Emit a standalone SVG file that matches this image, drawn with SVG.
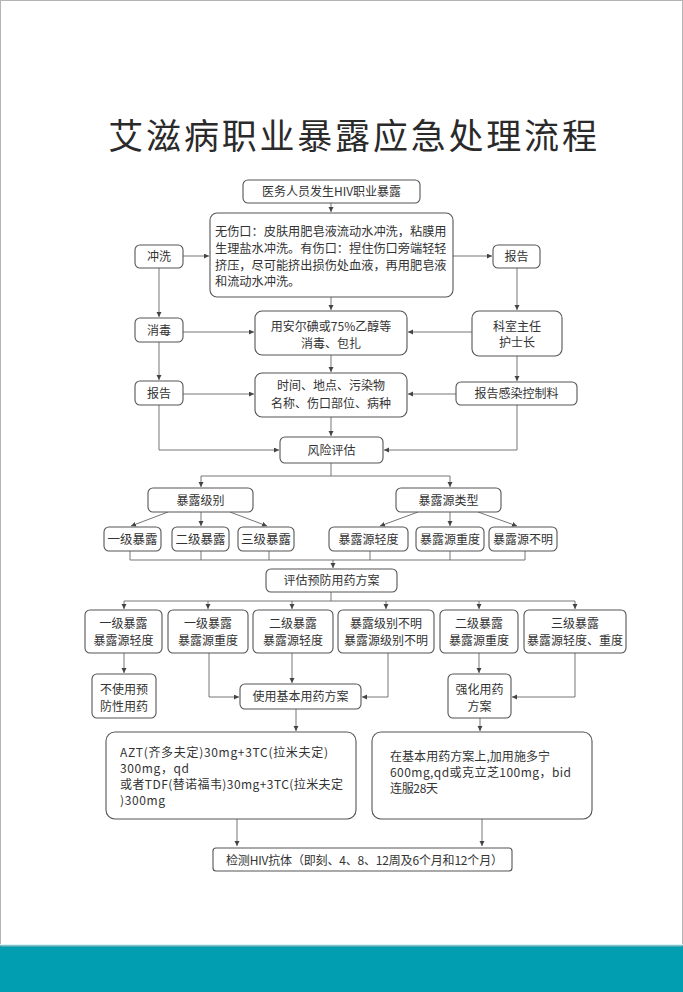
<svg xmlns="http://www.w3.org/2000/svg" width="683" height="992" viewBox="0 0 683 992">
<defs>
<style>
.box{fill:#fff;stroke:#555;stroke-width:1.1}
.t{font-family:"Noto Sans CJK SC","Noto Sans",sans-serif;font-size:12px;fill:#333}
.c{text-anchor:middle}
.ln{fill:none;stroke:#666;stroke-width:0.9}
.title{font-family:"Noto Sans CJK SC","Noto Sans",sans-serif;font-size:35px;fill:#2a2a2a;letter-spacing:2.8px;text-anchor:middle}
</style>
<marker id="ar" markerUnits="userSpaceOnUse" markerWidth="6" markerHeight="6" refX="5" refY="2.5" orient="auto">
<path d="M0,0 L5,2.5 L0,5 z" fill="#444"/>
</marker>
</defs>
<rect x="0" y="0" width="683" height="992" fill="#fff"/>
<rect x="0.5" y="0.5" width="682" height="991" fill="none" stroke="#b4b4b4" stroke-width="1"/>
<rect x="0" y="944" width="683" height="1.5" fill="#d6f5f9"/>
<rect x="0" y="945.5" width="683" height="1.2" fill="#2a8a92"/>
<rect x="0" y="946.7" width="683" height="45.3" fill="#019db1"/>

<text class="title" x="354" y="149">艾滋病职业暴露应急处理流程</text>

<g id="connectors" class="ln">
<path d="M331,203 V212" marker-end="url(#ar)"/>
<path d="M183,256 H209" marker-end="url(#ar)"/>
<path d="M453,256 H492" marker-end="url(#ar)"/>
<path d="M159,268 V317" marker-end="url(#ar)"/>
<path d="M517,268 V310" marker-end="url(#ar)"/>
<path d="M331,297 V310" marker-end="url(#ar)"/>
<path d="M183,332 H254" marker-end="url(#ar)"/>
<path d="M472,332 H408" marker-end="url(#ar)"/>
<path d="M159,342 V380" marker-end="url(#ar)"/>
<path d="M517,356 V381" marker-end="url(#ar)"/>
<path d="M331,355 V372" marker-end="url(#ar)"/>
<path d="M183,394 H254" marker-end="url(#ar)"/>
<path d="M456,394 H408" marker-end="url(#ar)"/>
<path d="M331,417 V436" marker-end="url(#ar)"/>
<path d="M159,405 V450 H279" marker-end="url(#ar)"/>
<path d="M517,405 V450 H384" marker-end="url(#ar)"/>
<path d="M331,463 V476"/>
<path d="M201,476 H450"/>
<path d="M201,476 V487" marker-end="url(#ar)"/>
<path d="M450,476 V487" marker-end="url(#ar)"/>
<path d="M168,512 L131,526" marker-end="url(#ar)"/>
<path d="M201,512 V526" marker-end="url(#ar)"/>
<path d="M230,512 L267,526" marker-end="url(#ar)"/>
<path d="M418,512 L380,526" marker-end="url(#ar)"/>
<path d="M450,512 V526" marker-end="url(#ar)"/>
<path d="M478,512 L517,526" marker-end="url(#ar)"/>
<path d="M130,551 V560 M201,551 V560 M269,551 V560 M370,551 V560 M450,551 V560 M525,551 V560 M130,560 H525"/>
<path d="M333,560 V568" marker-end="url(#ar)"/>
<path d="M331,592 V601 M124,601 H575"/>
<path d="M124,601 V609" marker-end="url(#ar)"/>
<path d="M208,601 V609" marker-end="url(#ar)"/>
<path d="M292,601 V609" marker-end="url(#ar)"/>
<path d="M386,601 V609" marker-end="url(#ar)"/>
<path d="M479,601 V609" marker-end="url(#ar)"/>
<path d="M575,601 V609" marker-end="url(#ar)"/>
<path d="M124,653 V673" marker-end="url(#ar)"/>
<path d="M209,653 V697 H239" marker-end="url(#ar)"/>
<path d="M292,653 V683" marker-end="url(#ar)"/>
<path d="M388,653 V697 H362" marker-end="url(#ar)"/>
<path d="M479,653 V673" marker-end="url(#ar)"/>
<path d="M575,653 V697 H512" marker-end="url(#ar)"/>
<path d="M296,709 V731" marker-end="url(#ar)"/>
<path d="M480,718 V731" marker-end="url(#ar)"/>
<path d="M237,819 V846" marker-end="url(#ar)"/>
<path d="M482,819 V846" marker-end="url(#ar)"/>
</g>

<g id="n-start"><rect class="box" x="243" y="180" width="177" height="23" rx="5"/><text class="t c" x="331.5" y="196">医务人员发生HIV职业暴露</text></g>
<g id="n-wash-detail"><rect class="box" x="210" y="213" width="243" height="84" rx="7"/>
<text class="t" style="font-size:12.2px" x="215" y="235.5">无伤口：皮肤用肥皂液流动水冲洗，粘膜用</text>
<text class="t" style="font-size:12.2px" x="215" y="252.5">生理盐水冲洗。有伤口：捏住伤口旁端轻轻</text>
<text class="t" style="font-size:12.2px" x="215" y="269.5">挤压，尽可能挤出损伤处血液，再用肥皂液</text>
<text class="t" style="font-size:12.2px" x="215" y="286">和流动水冲洗。</text></g>
<g id="n-wash"><rect class="box" x="135" y="245" width="48" height="23" rx="5"/><text class="t c" x="159" y="261">冲洗</text></g>
<g id="n-report1"><rect class="box" x="493" y="245" width="47" height="23" rx="5"/><text class="t c" x="516.5" y="261">报告</text></g>
<g id="n-disinfect"><rect class="box" x="135" y="318" width="48" height="24" rx="5"/><text class="t c" x="159" y="334.5">消毒</text></g>
<g id="n-disinfect-detail"><rect class="box" x="255" y="311" width="152" height="44" rx="7"/>
<text class="t c" x="331" y="330.5">用安尔碘或75%乙醇等</text>
<text class="t c" x="331" y="347.5">消毒、包扎</text></g>
<g id="n-head"><rect class="box" x="472" y="311" width="90" height="45" rx="7"/>
<text class="t c" x="517" y="330.5">科室主任</text>
<text class="t c" x="517" y="347">护士长</text></g>
<g id="n-report2"><rect class="box" x="135" y="381" width="48" height="24" rx="5"/><text class="t c" x="159" y="397.5">报告</text></g>
<g id="n-record"><rect class="box" x="255" y="373" width="152" height="44" rx="7"/>
<text class="t c" x="331" y="389.5">时间、地点、污染物</text>
<text class="t c" x="331" y="407.5">名称、伤口部位、病种</text></g>
<g id="n-infection"><rect class="box" x="456" y="382" width="121" height="23" rx="5"/><text class="t c" x="516.5" y="398">报告感染控制料</text></g>
<g id="n-risk"><rect class="box" x="280" y="437" width="103" height="26" rx="5"/><text class="t c" x="331.5" y="454.5">风险评估</text></g>
<g id="n-level"><rect class="box" x="148" y="488" width="105" height="24" rx="5"/><text class="t c" x="200.5" y="504.5">暴露级别</text></g>
<g id="n-source"><rect class="box" x="396" y="488" width="105" height="24" rx="5"/><text class="t c" x="448.5" y="504.5">暴露源类型</text></g>
<g id="n-l1"><rect class="box" x="104" y="527" width="57" height="24" rx="5"/><text class="t c" style="font-size:12.5px" x="132.5" y="543.5">一级暴露</text></g>
<g id="n-l2"><rect class="box" x="172" y="527" width="57" height="24" rx="5"/><text class="t c" style="font-size:12.5px" x="200.5" y="543.5">二级暴露</text></g>
<g id="n-l3"><rect class="box" x="238" y="527" width="56" height="24" rx="5"/><text class="t c" style="font-size:12.5px" x="266" y="543.5">三级暴露</text></g>
<g id="n-s1"><rect class="box" x="329" y="527" width="79" height="24" rx="5"/><text class="t c" x="368.5" y="543.5">暴露源轻度</text></g>
<g id="n-s2"><rect class="box" x="416" y="527" width="68" height="24" rx="5"/><text class="t c" x="450" y="543.5">暴露源重度</text></g>
<g id="n-s3"><rect class="box" x="489" y="527" width="68" height="24" rx="5"/><text class="t c" x="523" y="543.5">暴露源不明</text></g>
<g id="n-assess"><rect class="box" x="266" y="569" width="131" height="23" rx="5"/><text class="t c" x="331.5" y="585">评估预防用药方案</text></g>
<g id="n-c1"><rect class="box" x="85" y="610" width="77" height="43" rx="5"/><text class="t c" x="123.5" y="628">一级暴露</text><text class="t c" x="123.5" y="645">暴露源轻度</text></g>
<g id="n-c2"><rect class="box" x="168" y="610" width="80" height="43" rx="5"/><text class="t c" x="208" y="628">一级暴露</text><text class="t c" x="208" y="645">暴露源重度</text></g>
<g id="n-c3"><rect class="box" x="253" y="610" width="80" height="43" rx="5"/><text class="t c" x="293" y="628">二级暴露</text><text class="t c" x="293" y="645">暴露源轻度</text></g>
<g id="n-c4"><rect class="box" x="338" y="610" width="96" height="43" rx="5"/><text class="t c" x="386" y="628">暴露级别不明</text><text class="t c" x="386" y="645">暴露源级别不明</text></g>
<g id="n-c5"><rect class="box" x="440" y="610" width="78" height="43" rx="5"/><text class="t c" x="479" y="628">二级暴露</text><text class="t c" x="479" y="645">暴露源重度</text></g>
<g id="n-c6"><rect class="box" x="524" y="610" width="102" height="43" rx="5"/><text class="t c" x="575" y="628">三级暴露</text><text class="t c" x="575" y="645">暴露源轻度、重度</text></g>
<g id="n-none"><rect class="box" x="92" y="674" width="64" height="44" rx="5"/><text class="t c" x="124" y="693.5">不使用预</text><text class="t c" x="124" y="710.5">防性用药</text></g>
<g id="n-basic"><rect class="box" x="240" y="684" width="121" height="25" rx="5"/><text class="t c" x="300.5" y="701">使用基本用药方案</text></g>
<g id="n-strong"><rect class="box" x="448" y="674" width="63" height="44" rx="5"/><text class="t c" x="479.5" y="693.5">强化用药</text><text class="t c" x="479.5" y="710.5">方案</text></g>
<g id="n-basic-detail"><rect class="box" x="106" y="732" width="250" height="87" rx="9"/>
<text class="t" x="120" y="757" textLength="208" lengthAdjust="spacing">AZT(齐多夫定)30mg+3TC(拉米夫定)</text>
<text class="t" x="120" y="773" textLength="69" lengthAdjust="spacing">300mg，qd</text>
<text class="t" x="120" y="789" textLength="223" lengthAdjust="spacing">或者TDF(替诺福韦)30mg+3TC(拉米夫定</text>
<text class="t" x="120" y="805" textLength="45" lengthAdjust="spacing">)300mg</text></g>
<g id="n-strong-detail"><rect class="box" x="372" y="732" width="220" height="87" rx="9"/>
<text class="t" x="390" y="761" textLength="160" lengthAdjust="spacing">在基本用药方案上,加用施多宁</text>
<text class="t" x="390" y="777" textLength="181" lengthAdjust="spacing">600mg,qd或克立芝100mg，bid</text>
<text class="t" x="390" y="793" textLength="48" lengthAdjust="spacing">连服28天</text></g>
<g id="n-test"><rect class="box" x="213" y="848" width="299" height="23" rx="3"/><text class="t" x="226" y="864.5" textLength="277" lengthAdjust="spacing">检测HIV抗体（即刻、4、8、12周及6个月和12个月）</text></g>
</svg>
